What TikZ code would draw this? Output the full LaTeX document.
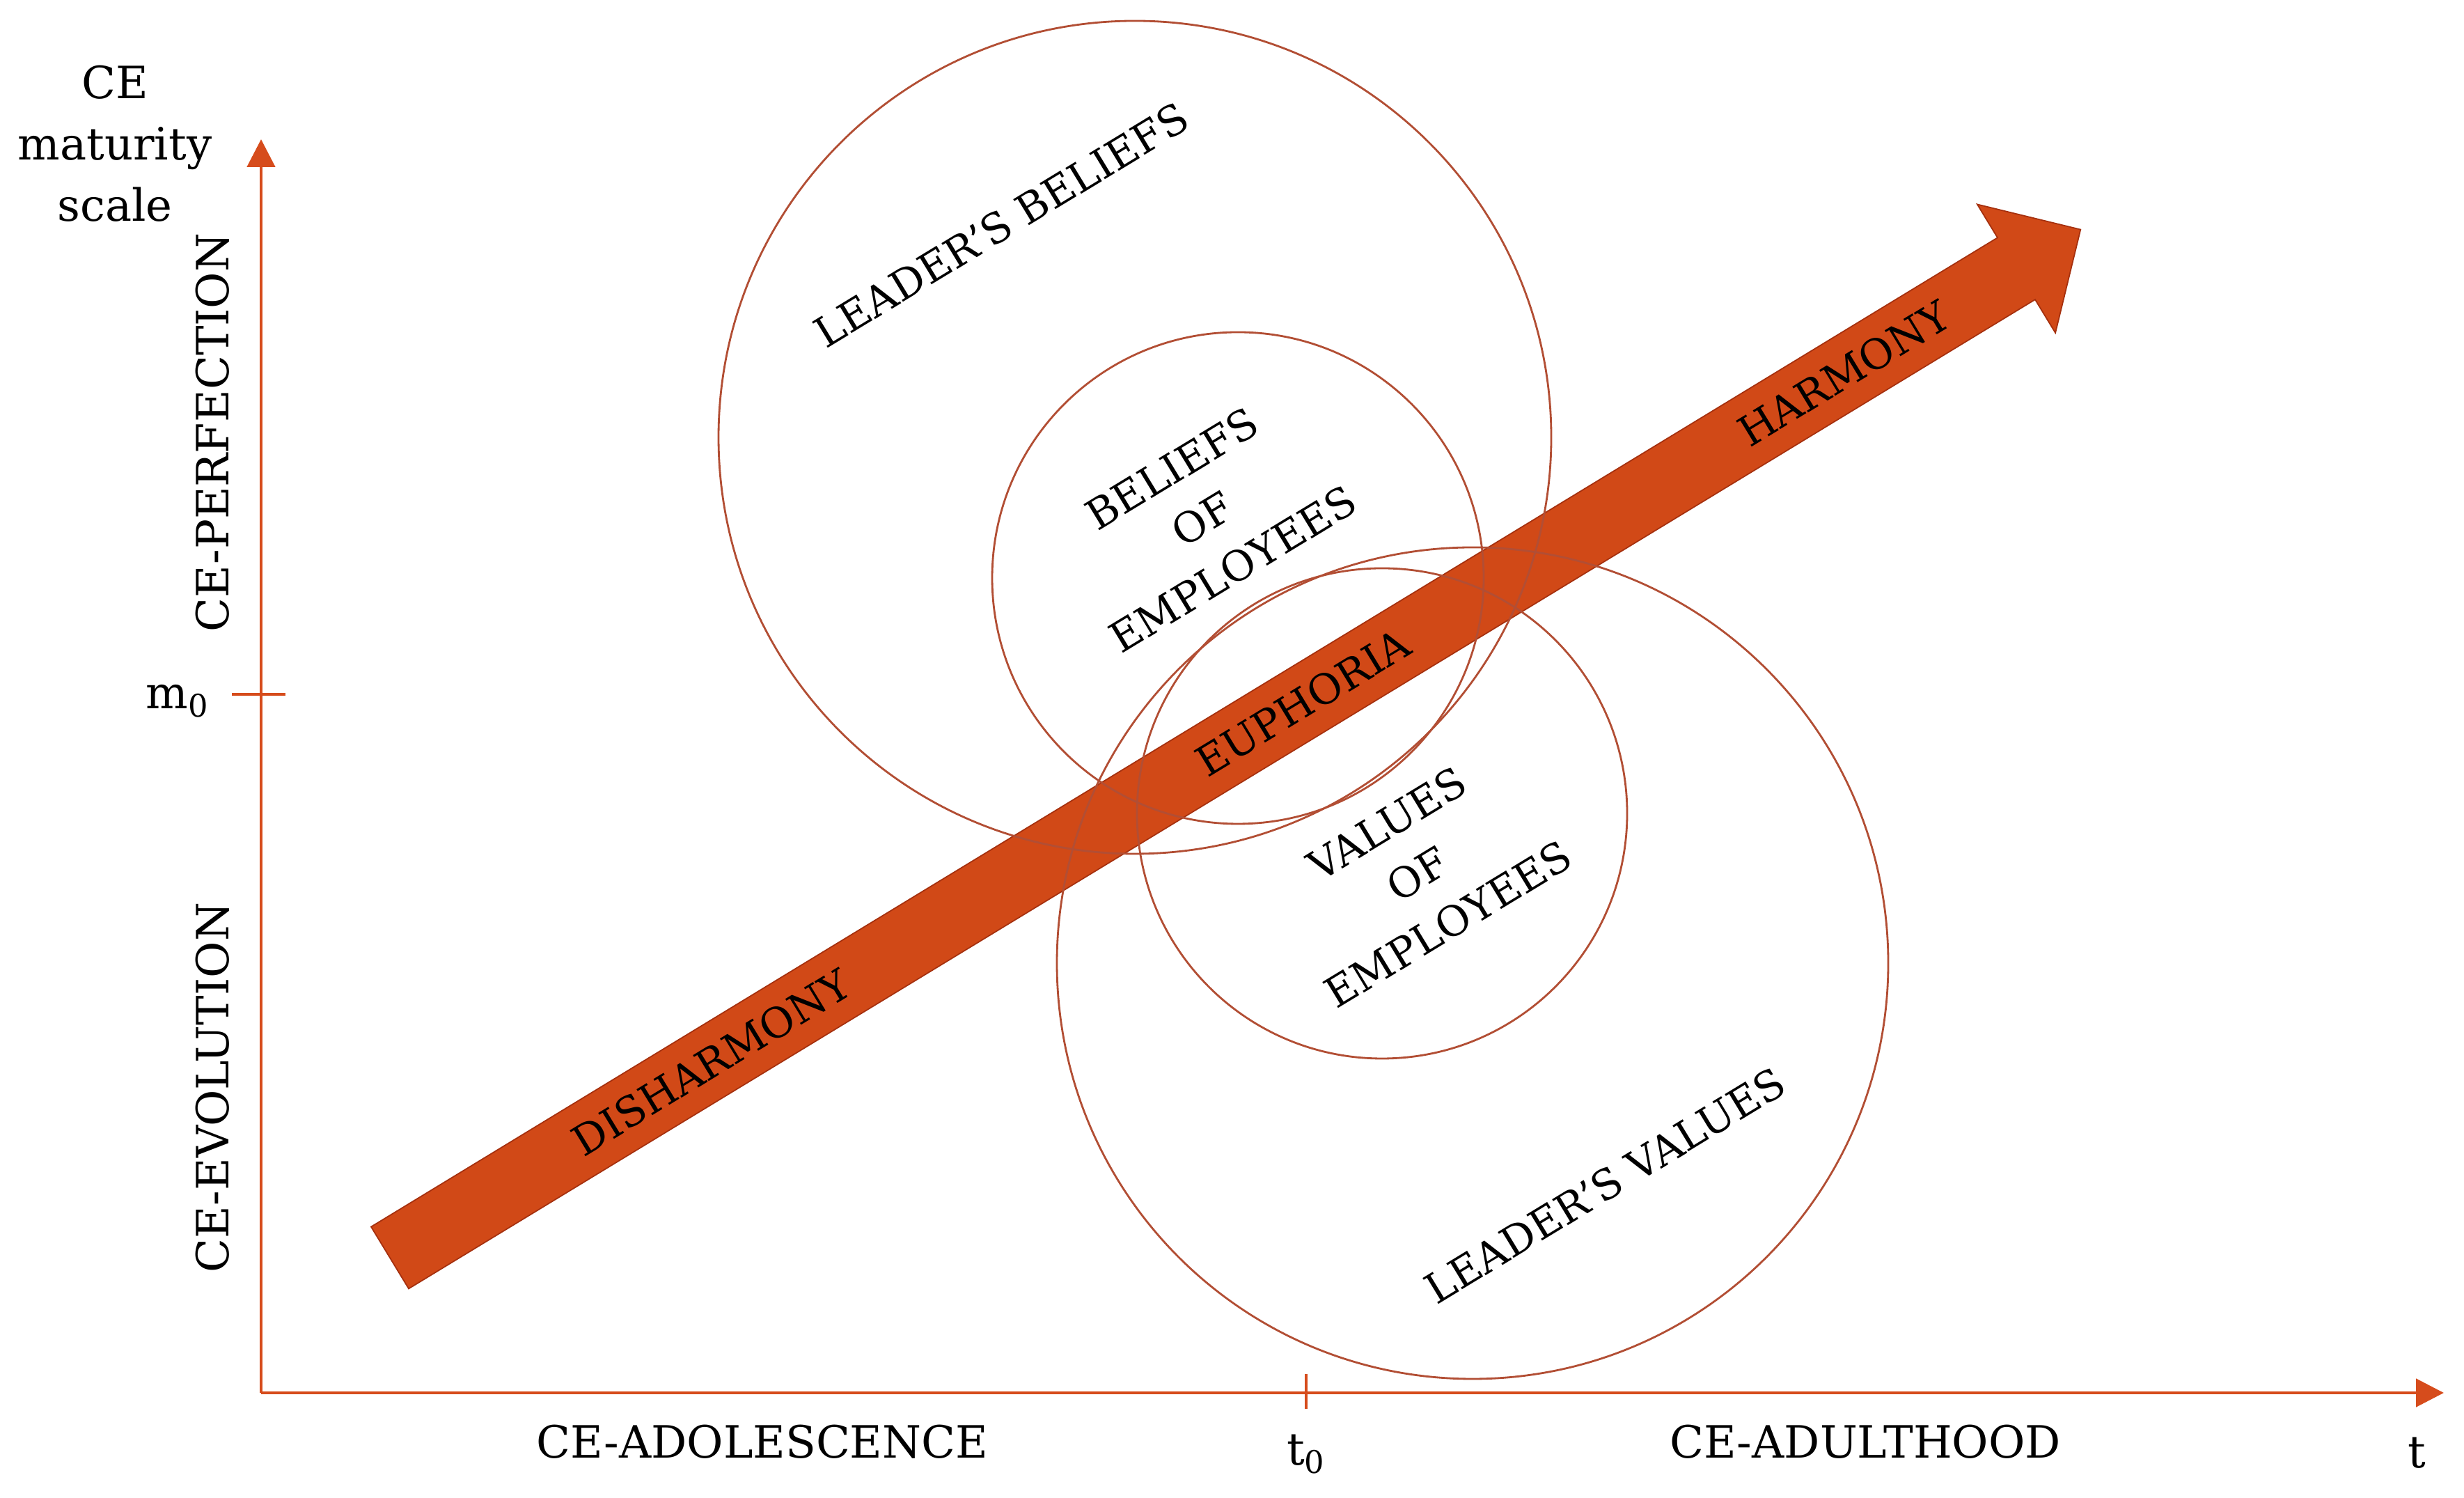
\documentclass[tikz,border=0pt]{standalone}
\usepackage{fontspec}
\setmainfont{DejaVu Serif}
\usepackage{tikz}
\usetikzlibrary{calc,arrows.meta}

\definecolor{axisred}{RGB}{214,76,28}
\definecolor{flowred}{RGB}{209,73,23}
\definecolor{flowedge}{RGB}{165,48,14}
\definecolor{ringred}{RGB}{178,78,52}

\begin{document}
\begin{tikzpicture}[
    axis/.style={axisred, line width=1.4pt, -{Triangle[length=0.4cm,width=0.4cm]}},
    tick/.style={axisred, line width=1.4pt},
    ring/.style={ringred, line width=0.8pt},
    lbl/.style={font=\fontsize{18.2}{25}\selectfont, inner sep=0pt},
    tilted/.style={font=\fontsize{17}{24}\selectfont, inner sep=0pt, rotate=31.3, align=center}
]
\useasboundingbox (0,0) rectangle (35.39,21.51);

% =====================
% Axes
% =====================
\coordinate (origin) at (3.75,1.51);
\coordinate (ytop) at (3.75,19.51);
\coordinate (xend) at (35.10,1.51);
\draw[axis] (origin) -- (ytop);
\draw[axis] (origin) -- (xend);

% m0 and t0 marks
\coordinate (m0left) at (3.33,11.54);
\coordinate (m0right) at (4.10,11.54);
\draw[tick] (m0left) -- (m0right);
\coordinate (t0top) at (18.76,1.78);
\coordinate (t0bot) at (18.76,1.28);
\draw[tick] (t0top) -- (t0bot);

% =====================
% Axis labels
% =====================
\node[lbl, align=center] (scaletitle) at (1.65,19.45) {CE\\maturity\\scale};
\node[lbl] (mzero) at (2.55,11.44) {m\textsubscript{0}};
\node[lbl] (tzero) at (18.76,0.63) {t\textsubscript{0}};
\node[lbl] (tlabel) at (34.71,0.65) {t};

\node[lbl, rotate=90] (perfection) at (3.05,15.30) {CE-PERFECTION};
\node[lbl, rotate=90] (evolution) at (3.05,5.89) {CE-EVOLUTION};
\node[lbl] (adolescence) at (10.95,0.81) {CE-ADOLESCENCE};
\node[lbl] (adulthood) at (26.79,0.81) {CE-ADULTHOOD};

% =====================
% Big arrow
% =====================
\coordinate (tail) at (5.60,3.45);
\begin{scope}[shift={(tail)}, rotate=31.3]
  \filldraw[fill=flowred, draw=flowedge, line width=0.5pt]
    (0,-0.52) -- (27.34,-0.52) -- (27.34,-1.08) -- (28.42,0)
    -- (27.34,1.08) -- (27.34,0.52) -- (0,0.52) -- cycle;
  \coordinate (tip) at (28.42,0);
\end{scope}

\node[tilted] (disharmony) at ($(tail)!0.19!(tip)$) {DISHARMONY};
\node[tilted] (euphoria) at ($(tail)!0.54!(tip)$) {EUPHORIA};
\node[tilted] (harmony) at ($(tail)!0.86!(tip)$) {HARMONY};

% =====================
% Circles
% =====================
\coordinate (lbeliefs) at (16.30,15.23);
\coordinate (ebeliefs) at (17.78,13.21);
\coordinate (evalues) at (19.85,9.83);
\coordinate (lvalues) at (21.15,7.68);

\draw[ring] (lbeliefs) circle (5.98);
\draw[ring] (ebeliefs) circle (3.53);
\draw[ring] (evalues) circle (3.52);
\draw[ring] (lvalues) circle (5.97);

\node[tilted] (lbtext) at (14.38,18.28) {LEADER'S BELIEFS};
\node[tilted] (ebtext) at (17.27,14.06) {BELIEFS\\OF\\EMPLOYEES};
\node[tilted] (evtext) at (20.36,8.96) {VALUES\\OF\\EMPLOYEES};
\node[tilted] (lvtext) at (23.05,4.49) {LEADER'S VALUES};

\end{tikzpicture}
\end{document}
